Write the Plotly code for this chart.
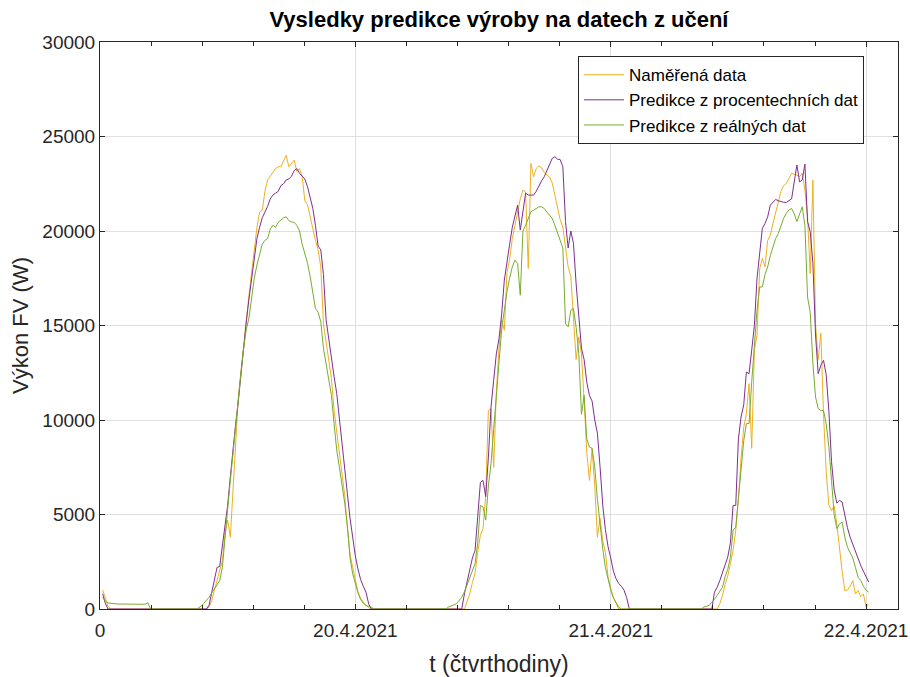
import plotly.graph_objects as go

# ---- data (quarter-hour index t = 1..289) ----
tick_positions = [0, 96, 192, 288]
tick_labels = ["0", "20.4.2021", "21.4.2021", "22.4.2021"]

series_names = ["Naměřená data", "Predikce z procentechních dat", "Predikce z reálných dat"]

measured = (
    [1000, 600, 150]
    + [0, 0, 0, 0, 0, 0, 0, 0, 0, 0, 0, 0, 0, 0, 0, 0, 0, 0, 0, 0,
       0, 0, 0, 0, 0, 0, 0, 0, 0, 0, 0, 0, 0, 0, 0, 0, 0]
    + [100, 450, 1000, 1500, 2000, 2550, 4000, 4700, 3800, 6500,
       9000, 11200, 12600, 14000, 15300, 16600, 17800, 19000, 20200, 21000,
       21100, 22100, 22700, 22900, 23100, 23300, 23400, 23400, 23700, 24000,
       23400, 23600, 23750, 23150, 23300, 22900, 21600, 21400, 20700, 20100,
       19500, 19000, 18100, 15100, 14200, 13200, 12200, 10500, 9300, 8400,
       7200, 6000, 4300, 2900, 2200, 1500, 900, 550, 350, 185, 80]
    + [0, 0, 0, 0, 0, 0, 0, 0, 0, 0, 0, 0, 0, 0, 0, 0, 0, 0, 0, 0,
       0, 0, 0, 0, 0, 0, 0, 0, 0, 0, 0, 0, 0, 0, 0, 0]
    + [400, 800, 1400, 1900, 3000, 3900, 4250, 6000, 10500, 10600,
       7500, 11500, 13800, 15300, 14750, 17800, 18500, 19600, 20300, 21000,
       21700, 22160, 22070, 18020, 23580, 22870, 23310, 23440, 23350, 23100,
       22950, 22850, 22550, 21900, 21250, 20600, 20200, 19000, 18100, 17600,
       15300, 13200, 14400, 13500, 11000, 8300, 6800, 8500, 6500, 3800,
       4800, 3600, 3000, 1700, 1100, 600, 300]
    + [0, 0, 0, 0, 0, 0, 0, 0, 0, 0, 0, 0, 0, 0, 0, 0, 0, 0, 0, 0,
       0, 0, 0, 0, 0, 0, 0, 0, 0, 0, 0, 0, 0, 0, 0, 0, 0, 0]
    + [275, 700, 1300, 1750, 2400, 3100, 4160, 5800, 8000, 9600,
       10340, 11930, 8500, 13690, 14500, 18000, 18550, 18100, 19500, 19780,
       20400, 21000, 21640, 22100, 22400, 22510, 22780, 23050, 23000, 22960,
       22870, 23050, 22160, 20750, 17750, 22690, 15100, 13200, 14600, 10300,
       7300, 5500, 5200, 5450, 4500, 3100, 2000, 980, 1000, 1200,
       1500, 800, 980, 650, 800, 100, 275]
)

pred_percent = (
    [800, 300]
    + [0, 0, 0, 0, 0, 0, 0, 0, 0, 0, 0, 0, 0, 0, 0, 0, 0, 0, 0, 0,
       0, 0, 0, 0, 0, 0, 0, 0, 0, 0, 0, 0, 0, 0, 0, 0, 0, 0]
    + [200, 900, 1600, 2200, 2250, 3300, 4300, 5500, 7000, 8500,
       9800, 11000, 12500, 14000, 15200, 16400, 17500, 18700, 19600, 20200,
       20700, 21000, 21300, 21700, 21900, 22000, 22100, 22400, 22500, 22700,
       22750, 22900, 23200, 23300, 23050, 22900, 22750, 22350, 21800, 21200,
       20300, 19200, 19000, 17700, 15300, 14200, 13200, 12300, 11400, 10000,
       8800, 7400, 6100, 4800, 3800, 2800, 2100, 1550, 1200, 890, 275]
    + [0, 0, 0, 0, 0, 0, 0, 0, 0, 0, 0, 0, 0, 0, 0, 0, 0, 0, 0, 0,
       0, 0, 0, 0, 0, 0, 0, 0, 0, 0, 0, 0, 0, 0, 0]
    + [800, 1500, 2100, 2700, 3100, 4800, 6700, 6800, 5950, 8000,
       10700, 12100, 13500, 14300, 15600, 17400, 18500, 19300, 20200, 20800,
       21370, 20050, 21100, 22000, 21900, 21900, 21900, 22100, 22400, 22650,
       22870, 23200, 23450, 23840, 23930, 23800, 23780, 23400, 20500, 19100,
       20000, 19340, 17200, 15500, 13800, 13200, 12000, 11300, 11000, 10000,
       9300, 7500, 5500, 4200, 3300, 2700, 2000, 1600, 1350, 1200,
       1000, 600]
    + [0, 0, 0, 0, 0, 0, 0, 0, 0, 0, 0, 0, 0, 0, 0, 0, 0, 0, 0, 0,
       0, 0, 0, 0, 0, 0, 0, 0, 0, 0, 0, 0]
    + [890, 1150, 1500, 1900, 2400, 2750, 3500, 5480, 5480, 9000,
       10160, 10800, 12540, 12450, 13690, 15000, 17500, 18900, 20140, 20400,
       20750, 21370, 21550, 21670, 21600, 21550, 21520, 21510, 21600, 21700,
       22600, 23490, 22600, 22700, 23540, 20500, 19960, 18300, 14500, 12450,
       12900, 13160, 12400, 10500, 7800, 6300, 5600, 5750, 5660, 4900,
       4300, 3800, 3400, 3000, 2700, 2300, 2000, 1700, 1420]
)

pred_real = (
    [600, 420, 320, 290, 280, 270, 265, 260, 260, 255,
     255, 250, 250, 250, 245, 250, 260, 330]
    + [0, 0, 0, 0, 0, 0, 0, 0, 0, 0, 0, 0, 0, 0, 0, 0, 0, 0]
    + [50, 150, 300, 450, 620, 850, 1050, 1250, 1500, 2200,
       4000, 5300, 6800, 8300, 9800, 11100, 12500, 13800, 14800, 15400,
       16500, 17500, 18200, 18800, 19300, 19500, 19600, 20100, 20300, 20200,
       20450, 20580, 20700, 20750, 20550, 20480, 20460, 20300, 20000, 19300,
       18800, 18300, 17600, 16800, 15900, 15700, 15200, 13800, 12900, 12000,
       11300, 9800, 8400, 7500, 6600, 5600, 4400, 2700, 1860, 1300,
       850, 500, 300, 185, 150, 100]
    + [0, 0, 0, 0, 0, 0, 0, 0, 0, 0, 0, 0, 0, 0, 0, 0, 0, 0, 0, 0,
       0, 0, 0, 0, 0, 0, 0, 0]
    + [100, 150, 200, 275, 450, 620, 900, 1300, 1700, 2000,
       2400, 3500, 5480, 5400, 4700, 6500, 7700, 9500, 11200, 13000,
       14800, 15800, 16800, 17500, 18100, 18460, 18280, 16600, 20000, 20300,
       20670, 21020, 21100, 21200, 21280, 21280, 21190, 21000, 20840, 20670,
       20300, 19900, 19400, 19100, 15100, 14930, 15800, 15900, 14900, 13500,
       10300, 11300, 9000, 8570, 8500, 7500, 5800, 4300, 3200, 2200,
       1500, 1000, 600, 350, 100]
    + [0, 0, 0, 0, 0, 0, 0, 0, 0, 0, 0, 0, 0, 0, 0, 0, 0, 0, 0, 0,
       0, 0, 0, 0, 0, 0, 0, 0, 0, 0, 0]
    + [100, 150, 185, 360, 500, 715, 950, 1150, 1700, 2100,
       2740, 4160, 4330, 5920, 7690, 8900, 9810, 9810, 12000, 13870,
       15810, 17040, 17040, 17700, 18100, 18700, 19160, 19600, 19870, 20300,
       20670, 20930, 21110, 21190, 20900, 20500, 20900, 21280, 20300, 16500,
       15700, 13000, 11220, 10600, 10500, 10500, 9800, 8600, 6800, 5000,
       4250, 4500, 4600, 3800, 3270, 3000, 2700, 2200, 1680, 1510,
       1200, 1000, 890]
)

colors = ["#EDB120", "#7E2F8E", "#77AC30"]

FONT = "Liberation Sans, Arial, Helvetica, sans-serif"
AXC = "#262626"

fig = go.Figure()
for name, vals, col in zip(series_names, [measured, pred_percent, pred_real], colors):
    t = list(range(1, len(vals) + 1))
    fig.add_trace(go.Scatter(x=t, y=vals, mode="lines", name=name,
                             line=dict(color=col, width=1)))

fig.update_layout(
    width=910, height=677,
    margin=dict(l=100, r=12, t=42, b=68),
    paper_bgcolor="white", plot_bgcolor="white",
    font=dict(family=FONT, size=18, color=AXC),
    title=dict(text="<b>Vysledky predikce výroby na datech z učení</b>",
               x=0.5, xref="paper", xanchor="center",
               y=1 - 19 / 677, yref="container", yanchor="middle",
               font=dict(family=FONT, size=22, color="black")),
    showlegend=True,
    legend=dict(x=0.599, y=0.975, xanchor="left", yanchor="top",
                bgcolor="white", bordercolor=AXC, borderwidth=1,
                font=dict(family=FONT, size=17, color="black"),
                tracegroupgap=0, itemwidth=40),
)

fig.update_xaxes(
    range=[0, 300], tickvals=tick_positions, ticktext=tick_labels,
    automargin=False,
    showline=True, linecolor=AXC, linewidth=1, mirror="ticks",
    ticks="inside", ticklen=5, tickcolor=AXC, tickwidth=1,
    showgrid=True, gridcolor="#DFDFDF", gridwidth=1, zeroline=False,
    tickfont=dict(family=FONT, size=19, color=AXC),
    ticklabelstandoff=4,
    minor=dict(ticks="inside", dtick=19.2, tick0=0, ticklen=4, tickcolor=AXC, showgrid=False),
    title=dict(text="t (čtvrthodiny)", font=dict(family=FONT, size=23, color=AXC), standoff=16),
)
fig.update_yaxes(
    range=[0, 30000], dtick=5000, tick0=0, tickformat="d",
    automargin=False,
    showline=True, linecolor=AXC, linewidth=1, mirror="ticks",
    ticks="inside", ticklen=5, tickcolor=AXC, tickwidth=1,
    showgrid=True, gridcolor="#DFDFDF", gridwidth=1, zeroline=False,
    tickfont=dict(family=FONT, size=19, color=AXC),
    title=dict(text="Výkon FV (W)", font=dict(family=FONT, size=22, color=AXC), standoff=7),
)

fig.write_html("out.html")
